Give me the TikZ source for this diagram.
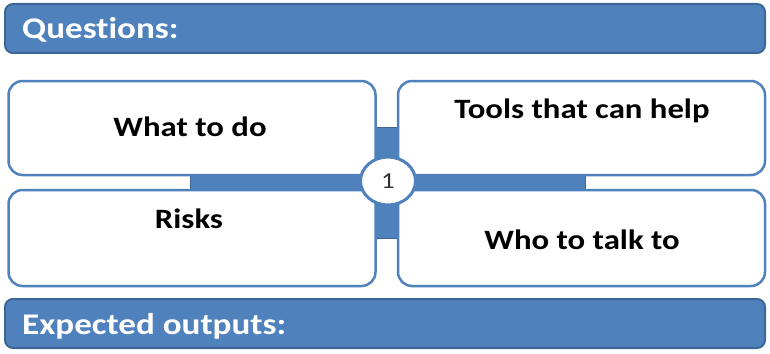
\documentclass[tikz,border=0pt]{standalone}
\usepackage{fontspec}
\setmainfont[FakeStretch=1.17, Ligatures=NoCommon]{Carlito}
\usetikzlibrary{shapes.geometric}
\definecolor{accent}{HTML}{4F81BD}
\definecolor{accentdark}{HTML}{3C6696}
\tikzstyle{header} = [draw=accentdark, line width=2pt, fill=accent,
  rounded corners=8pt, minimum width=760pt, minimum height=49pt]
\tikzstyle{quad} = [draw=accent, line width=2.5pt, fill=white,
  rounded corners=14pt, minimum width=367pt, minimum height=94pt]
\tikzstyle{bar} = [draw=accentdark, line width=1pt, fill=accent]
\tikzstyle{headtext} = [text=white, anchor=base west,
  font=\fontsize{30}{36}\selectfont\bfseries]
\tikzstyle{quadtext} = [anchor=base, font=\fontsize{28}{34}\selectfont\bfseries]

\begin{document}
\begin{tikzpicture}[x=1pt, y=-1pt, inner sep=0pt]
    \useasboundingbox (0,0) rectangle (770,353);
    % header bars
    \node[header] (questions) at (385,28.5) {};
    \node[headtext] (qlabel) at (22,38) {Questions:};
    \node[header] (outputs) at (385,323.5) {};
    \node[headtext] (olabel) at (22,334) {Expected outputs:};
    % cross behind the four boxes
    \node[bar, minimum width=395pt, minimum height=24pt] (hbar) at (387.5,183) {};
    \node[bar, minimum width=30pt, minimum height=111pt] (vbar) at (388,182.5) {};
    % four boxes
    \node[quad] (todo) at (192,128) {};
    \node[quad] (tools) at (581.5,128) {};
    \node[quad, minimum height=96pt] (risks) at (192,238) {};
    \node[quad, minimum height=96pt] (talk) at (581.5,238) {};
    \node[quadtext] (todolabel) at (190,136) {What to do};
    \node[quadtext] (toolslabel) at (582,118) {Tools that can help};
    \node[quadtext] (riskslabel) at (189,228) {Risks};
    \node[quadtext] (talklabel) at (582,249) {Who to talk to};
    % hub in the middle
    \node[ellipse, draw=accent, line width=3pt, fill=white, minimum width=55pt,
        minimum height=48pt, text=black!80, font=\fontsize{23}{26}\selectfont]
        (hub) at (388,181) {1};
\end{tikzpicture}
\end{document}
